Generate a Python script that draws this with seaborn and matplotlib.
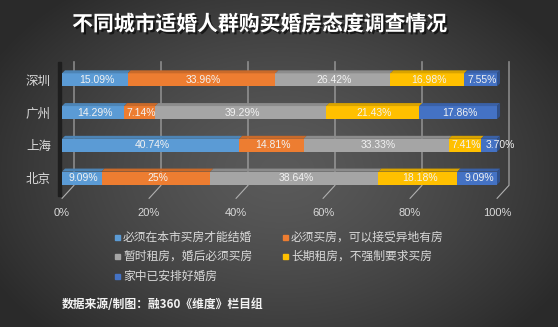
import numpy as np
import pandas as pd
import matplotlib
matplotlib.use("Agg")
import matplotlib.pyplot as plt
import matplotlib.patheffects as pe
from matplotlib.patches import Polygon, Rectangle
from matplotlib.colors import to_rgb
import seaborn as sns

# ---- data ----
cities = ["深圳", "广州", "上海", "北京"]
attitudes = ["必须在本市买房才能结婚", "必须买房，可以接受异地有房",
             "暂时租房，婚后必须买房", "长期租房，不强制要求买房", "家中已安排好婚房"]
must_buy_local = [15.09, 14.29, 40.74, 9.09]
must_buy_anywhere = [33.96, 7.14, 14.81, 25]
rent_then_buy = [26.42, 39.29, 33.33, 38.64]
rent_long_term = [16.98, 21.43, 7.41, 18.18]
home_arranged = [7.55, 17.86, 3.70, 9.09]
x_ticks = [0, 20, 40, 60, 80, 100]
x_tick_labels = ["0%", "20%", "40%", "60%", "80%", "100%"]
colors = ["#5b9bd5", "#ed7d31", "#a5a5a5", "#ffc000", "#4472c4"]

series = [must_buy_local, must_buy_anywhere, rent_then_buy, rent_long_term, home_arranged]
df = pd.DataFrame({"city": cities})
for name, vals in zip(attitudes, series):
    df[name] = vals
cum = df[attitudes].cumsum(axis=1)
cum["city"] = cities

sns.set_style("white")
plt.rcParams["font.family"] = ["Noto Sans CJK SC", "DejaVu Sans"]

W, H = 558, 327
fig = plt.figure(figsize=(W / 100, H / 100), dpi=100)

# dark radial background
bg = fig.add_axes([0, 0, 1, 1], zorder=-10)
yy, xx = np.mgrid[0:H, 0:W]
r = np.sqrt(((xx - 280) / 330) ** 2 + ((yy - 170) / 230) ** 2)
r = np.clip(r, 0, 1)
c_in = np.array(to_rgb("#5a5a5a"))
c_out = np.array(to_rgb("#2a2a2a"))
img = c_in[None, None, :] * (1 - r[..., None] ** 1.4) + c_out[None, None, :] * (r[..., None] ** 1.4)
bg.imshow(img, aspect="auto", extent=[0, 1, 0, 1])
bg.set_axis_off()

ax_left, ax_right = 62, 497
ax_top, ax_bot = 63.5, 194.5
ax = fig.add_axes([ax_left / W, 1 - ax_bot / H, (ax_right - ax_left) / W, (ax_bot - ax_top) / H])
ax.patch.set_alpha(0)

# stacked bars: draw cumulative totals from the last series back to the first
for i in range(len(attitudes) - 1, -1, -1):
    sns.barplot(data=cum, x=attitudes[i], y="city", orient="h", color=colors[i],
                saturation=1, width=0.4, linewidth=0, ax=ax, zorder=3)

ax.set_xlim(0, 100)
ax.set_ylim(3.5, -0.5)

px_x = (ax_right - ax_left) / 100.0
px_y = (ax_bot - ax_top) / 4.0

# back-wall grid lines with perspective foot
off = 12 / px_x
for v in x_ticks:
    ax.plot([v + off, v + off, v], [-0.56, 3.22, 3.62], color="#b0b0b0", lw=0.8,
            clip_on=False, zorder=1)
# left side wall
ax.add_patch(Rectangle((-1.0, -0.56), 0.8, 4.1, color="#1e1e1e", clip_on=False, zorder=1))

def shade(c, f):
    return tuple(np.clip(np.array(to_rgb(c)) * f, 0, 1))

dx, dy = 3 / px_x, 3 / px_y
h = 0.4
for j, city in enumerate(cities):
    left = 0.0
    ytop = j - h / 2
    ybot = j + h / 2
    for i, vals in enumerate(series):
        v = vals[j]
        # top face
        ax.add_patch(Polygon([(left, ytop), (left + v, ytop), (left + v + dx, ytop - dy),
                              (left + dx, ytop - dy)], closed=True,
                             color=shade(colors[i], 0.85), lw=0, zorder=4, clip_on=False))
        label = f"{v:g}%" if v == int(v) else f"{v:.2f}%"
        if v < 5:
            # narrow end segment: label starts inside and runs past the bar
            ax.text(left + 1.0, j, label, ha="left", va="center", fontsize=7.5,
                    color="#f2f2f2", family=["Liberation Sans", "DejaVu Sans"], zorder=6)
        else:
            ax.text(left + v / 2 + 0.4, j, label, ha="center", va="center", fontsize=7.5,
                    color="#f2f2f2", family=["Liberation Sans", "DejaVu Sans"], zorder=6)
        left += v
    # right side face
    ax.add_patch(Polygon([(left, ytop), (left + dx, ytop - dy), (left + dx, ybot - dy),
                          (left, ybot)], closed=True, color=shade(colors[-1], 0.7),
                         lw=0, zorder=4, clip_on=False))

ax.set_xticks(x_ticks)
ax.set_xticklabels(x_tick_labels, family=["Liberation Sans", "DejaVu Sans"])
ax.tick_params(axis="x", length=0, pad=10, labelsize=8, labelcolor="#d9d9d9")
ax.tick_params(axis="y", length=0, pad=8, labelsize=9, labelcolor="#d9d9d9")
ax.set_xlabel("")
ax.set_ylabel("")
for s in ax.spines.values():
    s.set_visible(False)
ax.grid(False)

# title
fig.text(260 / W, 1 - 24 / H, "不同城市适婚人群购买婚房态度调查情况", ha="center", va="center",
         fontsize=15, fontweight="bold", color="white",
         path_effects=[pe.withSimplePatchShadow(offset=(1.5, -1.5), shadow_rgbFace="black", alpha=0.6)])

# legend
legend_pos = [(117, 237), (285, 237), (117, 256), (285, 256), (117, 276)]
for (lx, ly), name, c in zip(legend_pos, attitudes, colors):
    fig.patches.append(Rectangle(((lx - 2.5) / W, 1 - (ly + 2.5) / H), 5 / W, 5 / H,
                                 transform=fig.transFigure, color=c, figure=fig))
    fig.text((lx + 6) / W, 1 - ly / H, name, ha="left", va="center", fontsize=8.5,
             color="#d9d9d9")

# source note
fig.text(62 / W, 1 - 305 / H, "数据来源/制图：融360《维度》栏目组", ha="left", va="center",
         fontsize=8.5, fontweight="bold", color="#f2f2f2")

fig.savefig("out.png", dpi=100)
